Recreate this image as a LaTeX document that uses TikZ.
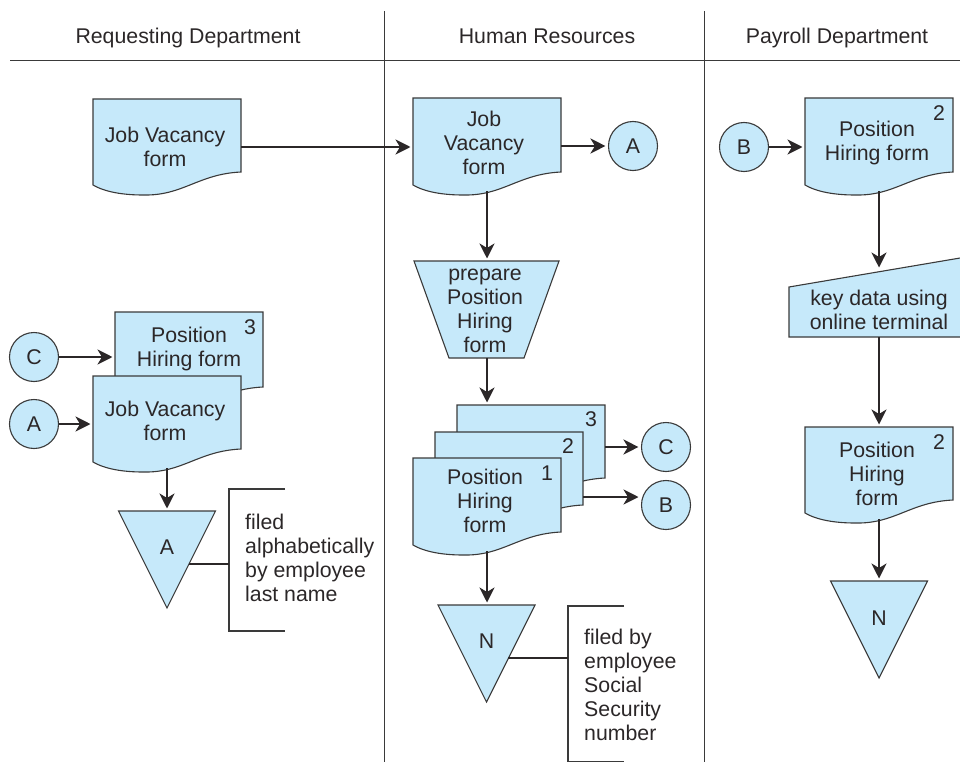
\documentclass[tikz,border=0pt]{standalone}
\usepackage{fontspec}
\setmainfont{Liberation Sans}
\usetikzlibrary{arrows.meta,calc}
\definecolor{fillblue}{HTML}{C6E9FA}
\definecolor{inkdark}{HTML}{2B2728}
\definecolor{framegrey}{HTML}{3A3A3A}
\tikzset{
  shapeline/.style={draw=framegrey,line width=1.1pt,fill=fillblue,line join=miter},
  txt/.style={font=\fontsize{21.3}{24}\selectfont,text=inkdark,align=center,inner sep=0pt},
  txtl/.style={txt,align=left},
  anchorbox/.style={inner sep=0pt,outer sep=0pt},
  flowcirc/.style={circle,shapeline,minimum size=49pt,inner sep=0pt,txt},
  conn/.style={line width=2.5pt,draw=inkdark},
  arrowconn/.style={conn,-{Stealth[length=15pt,width=15pt,inset=4.5pt]},shorten >=2.5pt},
  frameline/.style={line width=1.1pt,draw=framegrey},
  swim/.style={line width=1pt,draw=framegrey}
}
% name, x-left, y-top, height of the right edge
\newcommand{\docsheet}[4]{%
  \path[shapeline] (#2,#3) -- (#2+148,#3) -- (#2+148,#3+#4)
    .. controls (#2+105,#3+#4+2) and (#2+90,#3+#4+24) .. (#2+50,#3+#4+23)
    .. controls (#2+30,#3+#4+23) and (#2+12,#3+#4+20) .. (#2,#3+#4+13) -- cycle;
  \node[anchorbox,minimum width=148pt,minimum height=#4pt+19pt] (#1) at (#2+74,#3+#4/2+9.5) {};
}
% name, centre x, top y
\newcommand{\filetri}[3]{%
  \path[shapeline] (#2-48.5,#3) -- (#2+48.5,#3) -- (#2,#3+97) -- cycle;
  \node[anchorbox,minimum width=97pt,minimum height=97pt] (#1) at (#2,#3+48.5) {};
}
\begin{document}
\begin{tikzpicture}[x=1pt,y=-1pt]
\useasboundingbox (0,0) rectangle (960,762);
\clip (0,0) rectangle (960,762);
% swimlanes
\coordinate (hl) at (10,61); \coordinate (hr) at (960,61);
\coordinate (v1t) at (384,11); \coordinate (v1b) at (384,762);
\coordinate (v2t) at (704,11); \coordinate (v2b) at (704,762);
\draw[swim] (hl) -- (hr);
\draw[swim] (v1t) -- (v1b);
\draw[swim] (v2t) -- (v2b);
\node[txt] (h1) at (188,38) {Requesting Department};
\node[txt] (h2) at (547,36) {Human Resources};
\node[txt] (h3) at (837,38) {Payroll Department};

% Requesting department
\docsheet{jv1}{93}{99}{73}
\node[txt] (jv1t) at (165,147.2) {Job Vacancy\\form};
\docsheet{ph3a}{115}{312}{75}
\node[txt] (ph3at) at (189,349) {Position\\Hiring form};
\node[txt] (ph3an) at (250,327) {3};
\docsheet{jv2}{93}{376}{73}
\node[txt] (jv2t) at (165,421.2) {Job Vacancy\\form};
\node[flowcirc] (cC) at (34,357) {C};
\node[flowcirc] (cA) at (34,424) {A};
\filetri{tA}{167}{511}
\node[txt] (tAt) at (167,547) {A};
\coordinate (tAs) at (189,564);
\coordinate (brAt) at (285,489);
\coordinate (brAb) at (285,631);
\coordinate (brAm) at (229,564);
\draw[frameline] (brAt) -- (brAt -| brAm) -- (brAb -| brAm) -- (brAb);
\node[txtl,anchor=west] (nA) at (245,558) {filed\\alphabetically\\by employee\\last name};

% Human resources
\docsheet{jv3}{413}{98}{74}
\node[txt] (jv3t) at (484,143) {Job\\Vacancy\\form};
\node[flowcirc] (hA) at (633,146) {A};
\path[shapeline] (414,261) -- (559,261) -- (524,358) -- (449,358) -- cycle;
\node[anchorbox,minimum width=145pt,minimum height=97pt] (prep) at (486.5,309.5) {};
\node[txt] (prept) at (485,311) {prepare\\Position\\Hiring\\form};
\docsheet{s3}{457}{405}{73}
\node[txt] (s3n) at (591,419) {3};
\docsheet{s2}{435}{432}{73}
\node[txt] (s2n) at (568,446) {2};
\docsheet{s1}{413}{458}{74}
\node[txt] (s1n) at (547,473) {1};
\node[txt] (s1t) at (485,501) {Position\\Hiring\\form};
\node[flowcirc] (hC) at (666,447) {C};
\node[flowcirc] (hB) at (666,505) {B};
\filetri{tN}{486.5}{605}
\node[txt] (tNt) at (486.5,641) {N};
\coordinate (tNs) at (508,658);
\coordinate (brNt) at (624,606);
\coordinate (brNb) at (624,761.5);
\coordinate (brNm) at (568,658);
\draw[frameline] (brNt) -- (brNt -| brNm) -- (brNb -| brNm) -- (brNb);
\node[txtl,anchor=west] (nN) at (584,685) {filed by\\employee\\Social\\Security\\number};

% Payroll
\node[flowcirc] (pB) at (744,147) {B};
\docsheet{pd1}{805}{98}{74}
\node[txt] (pd1t) at (877,143) {Position\\Hiring form};
\node[txt] (pd1n) at (939,113) {2};
\path[shapeline] (789,287) -- (966,257) -- (966,337) -- (789,337) -- cycle;
\node[anchorbox,minimum width=180pt,minimum height=67pt] (key) at (879,303.5) {};
\node[txt] (keyt) at (879,310) {key data using\\online terminal};
\docsheet{pd2}{805}{427}{73}
\node[txt] (pd2t) at (877,474) {Position\\Hiring\\form};
\node[txt] (pd2n) at (939,442) {2};
\filetri{tP}{879}{581}
\node[txt] (tPt) at (879,618) {N};

% connectors
\draw[arrowconn] (jv1.east |- 0,147) -- (jv3.west |- 0,147);
\draw[arrowconn] (jv3.east |- hA) -- (hA);
\draw[arrowconn] (pB) -- (pB -| pd1.west);
\draw[arrowconn] (cC) -- (cC -| ph3a.west);
\draw[arrowconn] (cA) -- (cA -| jv2.west);
\draw[arrowconn] (jv2.south) -- (jv2.south |- tA.north);
\draw[conn] (tAs) -- (brAm);
\draw[arrowconn] (jv3.south) -- (jv3.south |- prep.north);
\draw[arrowconn] (jv3.south |- prep.south) -- (jv3.south |- s3.north);
\draw[arrowconn] (s3.east |- hC) -- (hC);
\coordinate (bEnd) at (641,497);
\draw[arrowconn] (s2.east |- bEnd) -- (bEnd);
\draw[arrowconn] (s1.south) -- (s1.south |- tN.north);
\draw[conn] (tNs) -- (brNm);
\draw[arrowconn] (pd1.south) -- (pd1.south |- key.north);
\draw[arrowconn] (pd1.south |- key.south) -- (pd1.south |- pd2.north);
\draw[arrowconn] (pd2.south) -- (pd2.south |- tP.north);
\end{tikzpicture}
\end{document}
